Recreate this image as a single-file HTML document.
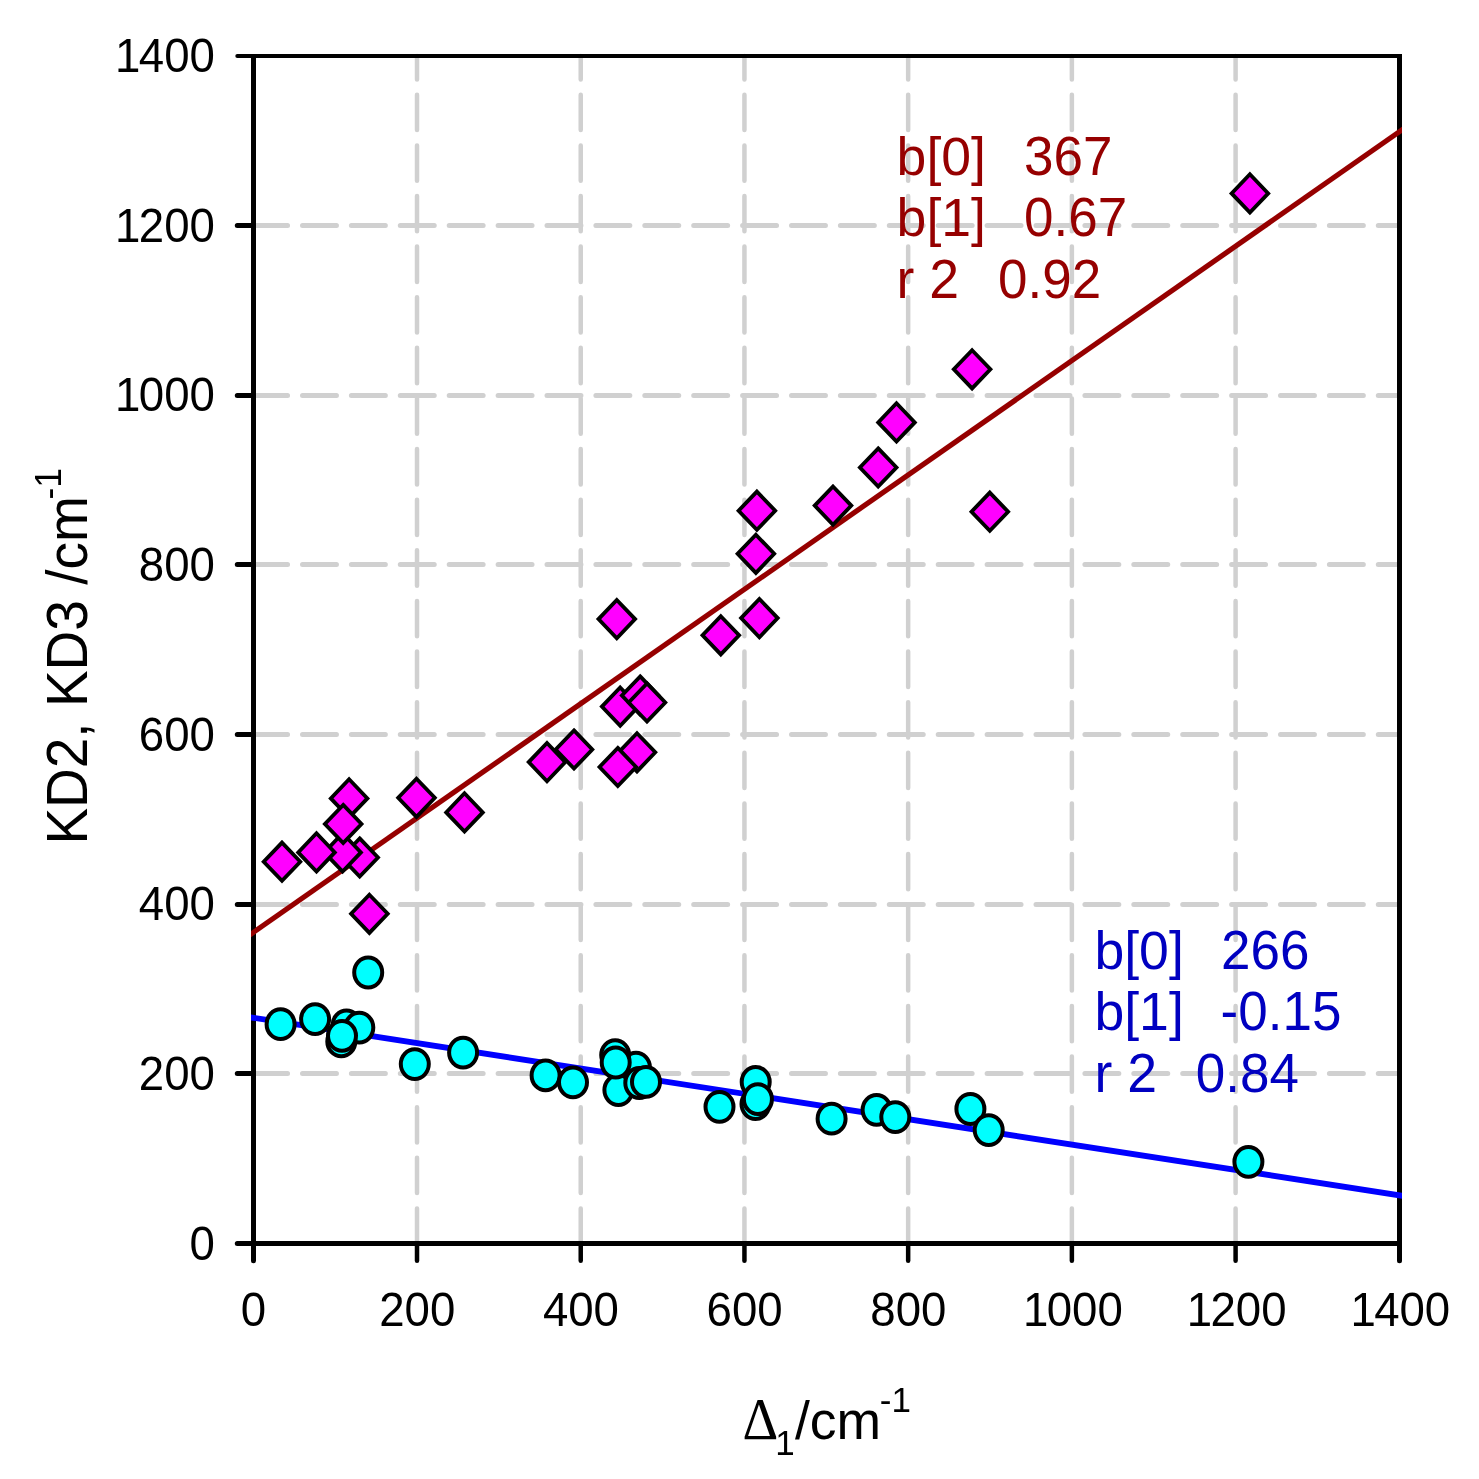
<!DOCTYPE html>
<html lang="en"><head><meta charset="utf-8"><title>KD2, KD3 vs Delta1</title>
<style>html,body{margin:0;padding:0;background:#fff}svg{display:block}text{font-family:"Liberation Sans",sans-serif}</style></head><body>
<svg width="1479" height="1479" viewBox="0 0 1479 1479" shape-rendering="geometricPrecision">
<rect width="1479" height="1479" fill="#fff"/>
<g stroke="#d0d0d0" stroke-linecap="round" fill="none">
<line x1="253.60" y1="1073.50" x2="1399.50" y2="1073.50" stroke-width="5" stroke-dasharray="33.95 14.95"/>
<line x1="253.60" y1="904.50" x2="1399.50" y2="904.50" stroke-width="5" stroke-dasharray="33.95 14.95"/>
<line x1="253.60" y1="734.50" x2="1399.50" y2="734.50" stroke-width="5" stroke-dasharray="33.95 14.95"/>
<line x1="253.60" y1="564.50" x2="1399.50" y2="564.50" stroke-width="5" stroke-dasharray="33.95 14.95"/>
<line x1="253.60" y1="395.50" x2="1399.50" y2="395.50" stroke-width="5" stroke-dasharray="33.95 14.95"/>
<line x1="253.60" y1="225.50" x2="1399.50" y2="225.50" stroke-width="5" stroke-dasharray="33.95 14.95"/>
<line x1="417.01" y1="1243.70" x2="417.01" y2="56.00" stroke-width="4.5" stroke-dasharray="35.3 15.32"/>
<line x1="580.73" y1="1243.70" x2="580.73" y2="56.00" stroke-width="4.5" stroke-dasharray="35.3 15.32"/>
<line x1="744.44" y1="1243.70" x2="744.44" y2="56.00" stroke-width="4.5" stroke-dasharray="35.3 15.32"/>
<line x1="908.16" y1="1243.70" x2="908.16" y2="56.00" stroke-width="4.5" stroke-dasharray="35.3 15.32"/>
<line x1="1071.87" y1="1243.70" x2="1071.87" y2="56.00" stroke-width="4.5" stroke-dasharray="35.3 15.32"/>
<line x1="1235.59" y1="1243.70" x2="1235.59" y2="56.00" stroke-width="4.5" stroke-dasharray="35.3 15.32"/>
</g>
<g stroke="#000" fill="none">
<line x1="253.5" y1="54" x2="253.5" y2="1246.0" stroke-width="5"/>
<line x1="1399.5" y1="54" x2="1399.5" y2="1246.0" stroke-width="5"/>
<line x1="253.5" y1="56" x2="1399.5" y2="56" stroke-width="4"/>
<line x1="253.5" y1="1243.5" x2="1399.5" y2="1243.5" stroke-width="5"/>
</g>
<g stroke="#000" stroke-linecap="round" fill="none">
<line x1="237.30" y1="1243.50" x2="253.50" y2="1243.50" stroke-width="5"/>
<line x1="253.50" y1="1243.50" x2="253.50" y2="1260.80" stroke-width="5"/>
<line x1="237.30" y1="1073.50" x2="253.50" y2="1073.50" stroke-width="5"/>
<line x1="417.01" y1="1243.50" x2="417.01" y2="1260.80" stroke-width="4.5"/>
<line x1="237.30" y1="904.50" x2="253.50" y2="904.50" stroke-width="5"/>
<line x1="580.73" y1="1243.50" x2="580.73" y2="1260.80" stroke-width="4.5"/>
<line x1="237.30" y1="734.50" x2="253.50" y2="734.50" stroke-width="5"/>
<line x1="744.44" y1="1243.50" x2="744.44" y2="1260.80" stroke-width="4.5"/>
<line x1="237.30" y1="564.50" x2="253.50" y2="564.50" stroke-width="5"/>
<line x1="908.16" y1="1243.50" x2="908.16" y2="1260.80" stroke-width="4.5"/>
<line x1="237.30" y1="395.50" x2="253.50" y2="395.50" stroke-width="5"/>
<line x1="1071.87" y1="1243.50" x2="1071.87" y2="1260.80" stroke-width="4.5"/>
<line x1="237.30" y1="225.50" x2="253.50" y2="225.50" stroke-width="5"/>
<line x1="1235.59" y1="1243.50" x2="1235.59" y2="1260.80" stroke-width="4.5"/>
<line x1="237.30" y1="56.00" x2="253.50" y2="56.00" stroke-width="4"/>
<line x1="1399.50" y1="1243.50" x2="1399.50" y2="1260.80" stroke-width="5"/>
</g>
<clipPath id="pc"><rect x="251.0" y="54" width="1151.0" height="1192.0"/></clipPath>
<line clip-path="url(#pc)" x1="245.50" y1="937.89" x2="1407.50" y2="126.11" stroke="#960000" stroke-width="5.2"/>
<line clip-path="url(#pc)" x1="245.50" y1="1016.56" x2="1407.50" y2="1196.54" stroke="#0000ff" stroke-width="5.9"/>
<g fill="#00ffff" stroke="#000" stroke-width="4.0">
<ellipse cx="368.2" cy="972.5" rx="14.0" ry="14.9"/>
<ellipse cx="280.6" cy="1024.2" rx="14.0" ry="14.9"/>
<ellipse cx="315.1" cy="1019.1" rx="14.0" ry="14.9"/>
<ellipse cx="346.5" cy="1025.4" rx="14.0" ry="14.9"/>
<ellipse cx="359.3" cy="1027.6" rx="14.0" ry="14.9"/>
<ellipse cx="341.3" cy="1041.4" rx="14.0" ry="14.9"/>
<ellipse cx="342.0" cy="1035.8" rx="14.0" ry="14.9"/>
<ellipse cx="414.8" cy="1064.1" rx="14.0" ry="14.9"/>
<ellipse cx="463.1" cy="1052.6" rx="14.0" ry="14.9"/>
<ellipse cx="545.6" cy="1075.4" rx="14.0" ry="14.9"/>
<ellipse cx="573.0" cy="1082.3" rx="14.0" ry="14.9"/>
<ellipse cx="618.4" cy="1090.1" rx="14.0" ry="14.9"/>
<ellipse cx="636.0" cy="1067.7" rx="14.0" ry="14.9"/>
<ellipse cx="615.2" cy="1055.1" rx="14.0" ry="14.9"/>
<ellipse cx="615.7" cy="1062.5" rx="14.0" ry="14.9"/>
<ellipse cx="639.3" cy="1083.0" rx="14.0" ry="14.9"/>
<ellipse cx="646.0" cy="1081.9" rx="14.0" ry="14.9"/>
<ellipse cx="719.5" cy="1106.8" rx="14.0" ry="14.9"/>
<ellipse cx="755.7" cy="1081.9" rx="14.0" ry="14.9"/>
<ellipse cx="755.5" cy="1104.1" rx="14.0" ry="14.9"/>
<ellipse cx="757.9" cy="1099.2" rx="14.0" ry="14.9"/>
<ellipse cx="831.6" cy="1118.7" rx="14.0" ry="14.9"/>
<ellipse cx="876.6" cy="1109.8" rx="14.0" ry="14.9"/>
<ellipse cx="895.3" cy="1117.1" rx="14.0" ry="14.9"/>
<ellipse cx="970.4" cy="1109.0" rx="14.0" ry="14.9"/>
<ellipse cx="988.7" cy="1130.1" rx="14.0" ry="14.9"/>
<ellipse cx="1248.4" cy="1161.8" rx="14.0" ry="14.9"/>
</g>
<g fill="#ff00ff" stroke="#000" stroke-width="3.8" stroke-linejoin="miter">
<path d="M282.0 842.6L300.3 861.7L282.0 880.8L263.7 861.7Z"/>
<path d="M359.7 838.4L378.0 857.5L359.7 876.6L341.4 857.5Z"/>
<path d="M342.6 833.3L360.9 852.4L342.6 871.5L324.3 852.4Z"/>
<path d="M316.5 833.3L334.8 852.4L316.5 871.5L298.2 852.4Z"/>
<path d="M349.1 779.3L367.4 798.4L349.1 817.5L330.8 798.4Z"/>
<path d="M343.2 804.9L361.5 824.0L343.2 843.1L324.9 824.0Z"/>
<path d="M369.4 894.7L387.7 913.8L369.4 932.9L351.1 913.8Z"/>
<path d="M416.5 778.7L434.8 797.8L416.5 816.9L398.2 797.8Z"/>
<path d="M464.5 793.3L482.8 812.4L464.5 831.5L446.2 812.4Z"/>
<path d="M574.0 730.4L592.3 749.5L574.0 768.6L555.7 749.5Z"/>
<path d="M547.0 743.0L565.3 762.1L547.0 781.2L528.7 762.1Z"/>
<path d="M616.8 600.0L635.1 619.1L616.8 638.2L598.5 619.1Z"/>
<path d="M637.0 733.2L655.3 752.3L637.0 771.4L618.7 752.3Z"/>
<path d="M617.8 747.9L636.1 767.0L617.8 786.1L599.5 767.0Z"/>
<path d="M620.2 687.5L638.5 706.6L620.2 725.7L601.9 706.6Z"/>
<path d="M640.2 676.4L658.5 695.5L640.2 714.6L621.9 695.5Z"/>
<path d="M647.0 683.4L665.3 702.5L647.0 721.6L628.7 702.5Z"/>
<path d="M720.8 616.2L739.1 635.3L720.8 654.4L702.5 635.3Z"/>
<path d="M759.4 599.0L777.7 618.1L759.4 637.2L741.1 618.1Z"/>
<path d="M755.9 534.7L774.2 553.8L755.9 572.9L737.6 553.8Z"/>
<path d="M756.9 491.6L775.2 510.7L756.9 529.8L738.6 510.7Z"/>
<path d="M833.0 486.5L851.3 505.6L833.0 524.7L814.7 505.6Z"/>
<path d="M878.2 448.4L896.5 467.5L878.2 486.6L859.9 467.5Z"/>
<path d="M896.5 403.3L914.8 422.4L896.5 441.5L878.2 422.4Z"/>
<path d="M972.1 350.2L990.4 369.3L972.1 388.4L953.8 369.3Z"/>
<path d="M989.8 492.6L1008.1 511.7L989.8 530.8L971.5 511.7Z"/>
<path d="M1249.9 174.3L1268.2 193.4L1249.9 212.5L1231.6 193.4Z"/>
</g>
<g font-size="45.6" fill="#000">
<text transform="translate(214.90 1259.50) scale(1 1.05)" text-anchor="end">0</text>
<text transform="translate(214.90 1089.86) scale(1 1.05)" text-anchor="end">200</text>
<text transform="translate(214.90 920.21) scale(1 1.05)" text-anchor="end">400</text>
<text transform="translate(214.90 750.57) scale(1 1.05)" text-anchor="end">600</text>
<text transform="translate(214.90 580.93) scale(1 1.05)" text-anchor="end">800</text>
<text transform="translate(213.30 411.29) scale(1 1.05)" text-anchor="end"><tspan dx="1.6">1</tspan><tspan dx="-1.6">000</tspan></text>
<text transform="translate(213.30 241.64) scale(1 1.05)" text-anchor="end"><tspan dx="1.6">1</tspan><tspan dx="-1.6">200</tspan></text>
<text transform="translate(213.30 72.00) scale(1 1.05)" text-anchor="end"><tspan dx="1.6">1</tspan><tspan dx="-1.6">400</tspan></text>
<text transform="translate(253.50 1325.80) scale(1 1.05)" text-anchor="middle">0</text>
<text transform="translate(417.21 1325.80) scale(1 1.05)" text-anchor="middle">200</text>
<text transform="translate(580.93 1325.80) scale(1 1.05)" text-anchor="middle">400</text>
<text transform="translate(744.64 1325.80) scale(1 1.05)" text-anchor="middle">600</text>
<text transform="translate(908.36 1325.80) scale(1 1.05)" text-anchor="middle">800</text>
<text transform="translate(1071.27 1325.80) scale(1 1.05)" text-anchor="middle"><tspan dx="1.6">1</tspan><tspan dx="-1.6">000</tspan></text>
<text transform="translate(1234.99 1325.80) scale(1 1.05)" text-anchor="middle"><tspan dx="1.6">1</tspan><tspan dx="-1.6">200</tspan></text>
<text transform="translate(1398.70 1325.80) scale(1 1.05)" text-anchor="middle"><tspan dx="1.6">1</tspan><tspan dx="-1.6">400</tspan></text>
</g>
<text transform="translate(87.1 844.6) rotate(-90) scale(1 1.05)" font-size="55.0" fill="#000">KD2, KD3 /cm<tspan font-size="35.3" dy="-25.3" dx="-3.2">-1</tspan></text>
<text transform="translate(742.40 1438.90) scale(1 1.08)" style="font-family:'Liberation Serif',serif" font-size="55.6" fill="#000">Δ</text>
<text transform="translate(743.30 1438.90) scale(1 1.02)" font-size="53.5" fill="#000"><tspan font-size="35" dy="15.5" x="32">1</tspan><tspan dy="-15.5" x="51.7">/cm</tspan><tspan font-size="35" dy="-26.8" dx="-1.3">-1</tspan></text>
<g fill="#960000">
<text transform="translate(896.60 175.20) scale(1 1.015)" font-size="53.6">b[0]</text>
<text transform="translate(1024.00 175.20) scale(1 1.035)" font-size="53">367</text>
<text transform="translate(896.60 236.35) scale(1 1.015)" font-size="53.6">b[1]</text>
<text transform="translate(1024.00 236.35) scale(1 1.035)" font-size="53">0.67</text>
<text transform="translate(896.60 297.50) scale(1 1.035)" font-size="53.6">r 2</text>
<text transform="translate(998.00 297.50) scale(1 1.035)" font-size="53">0.92</text>
</g>
<g fill="#0000c0">
<text transform="translate(1094.40 969.20) scale(1 1.015)" font-size="53.6">b[0]</text>
<text transform="translate(1221.10 969.20) scale(1 1.035)" font-size="53">266</text>
<text transform="translate(1094.40 1030.35) scale(1 1.015)" font-size="53.6">b[1]</text>
<text transform="translate(1220.60 1030.35) scale(1 1.035)" font-size="53">-0.15</text>
<text transform="translate(1094.40 1091.50) scale(1 1.035)" font-size="53.6">r 2</text>
<text transform="translate(1195.80 1091.50) scale(1 1.035)" font-size="53">0.84</text>
</g>
</svg></body></html>
